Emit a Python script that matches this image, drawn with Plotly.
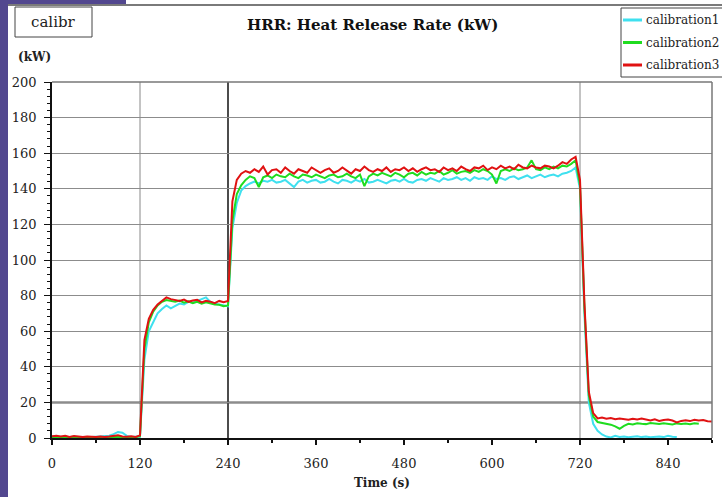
import plotly.graph_objects as go

time = list(range(0, 901, 6))

calibration1 = [
    0.8, 0.5, 0.7, 0.4, 0.6, 0.5, 0.8, 0.4, 0.6, 0.5,
    0.7, 1.0, 0.9, 1.3, 2.2, 3.4, 3.0, 1.2, 0.6, 0.5,
    0.8, 44, 60, 65, 70, 72.5, 74.5, 72.8, 74, 75.5,
    75, 76.5, 76, 77, 78, 79, 76.5, 75.5, 75, 74.5,
    74, 118, 132, 139, 141.5, 143, 144, 143, 144.5, 144,
    145, 143.5, 144, 145, 143, 141, 144, 145, 143.5, 144.5,
    145, 143.5, 144, 145.5, 144, 143, 145, 144.5, 143.5, 145,
    144, 145.5, 143.5, 144, 145, 144, 143, 144.5, 145, 144,
    145.5, 144, 143.5, 145, 145.5, 144.5, 146, 145, 144, 146,
    145, 145.5, 146.5, 145, 146, 144.5, 146.5, 145.5, 146, 145,
    147, 145.5, 146, 145, 146.5, 147, 145.5, 146.5, 147.5, 146,
    147, 148, 146.5, 147.5, 148, 147, 148.5, 149, 150, 152,
    140, 70, 20, 8, 4, 2, 0.8, 0.3, 1.2, 0.6,
    0.9, 0.4, 0.7, 1.0, 0.5, 0.8, 0.4, 0.6, 0.9, 0.5,
    1.3, 0.7, 0.5,
]

calibration2 = [
    0.4, 0.6, 0.3, 0.5, 0.4, 0.7, 0.3, 0.5, 0.4, 0.6,
    0.3, 0.5, 0.6, 0.4, 0.7, 0.5, 0.4, 0.6, 0.3, 0.5,
    1.0, 50, 65, 71, 74.5, 76.5, 77.5, 77, 76.5, 77.2,
    76, 76.8, 75.8, 76.5, 75.5, 76.2, 75.4, 75, 74.8, 74,
    74.5, 122, 137, 142, 145, 147, 146, 141, 146.5, 147.5,
    146, 148, 147, 146.5, 148.5, 147, 146, 148, 147.5, 146.5,
    148, 147, 146, 147.5, 148, 146.5, 147, 148.5, 147, 146,
    148, 141.5, 147, 148.5, 147.5, 149, 148, 147, 149, 148,
    146.5, 148.5, 149, 147.5, 149.5, 148, 149, 148.5, 150, 148,
    149, 150.5, 148.5, 149.5, 150, 149, 150.5, 149.5, 151, 150,
    148, 143, 150, 151, 150, 151.5, 150.5, 151, 152, 156,
    151, 150.5, 152, 151, 152.5, 151.5, 153, 152.5, 154, 156,
    142, 74, 24, 12, 9, 8.5, 8.2, 7.5, 6.5, 5.2,
    6.8, 8.0, 7.6, 8.3, 8.0, 7.8, 8.4, 8.1, 7.9, 8.3,
    8.0, 7.6, 8.2, 7.9, 8.1, 7.8, 8.3, 8.0,
]

calibration3 = [
    1.0, 1.3, 0.8, 1.2, 0.6, 1.1, 0.9, 0.5, 0.9, 0.7,
    0.6, 0.9, 0.5, 0.8, 1.2, 1.6, 0.9, 0.7, 1.0, 0.6,
    1.5, 55, 67, 72, 75, 77, 79, 78, 77.5, 77,
    77.8, 76.5, 77.2, 77.6, 76.2, 77.1, 76.6, 75.8, 77.0, 76.3,
    77.0, 133, 145, 148.5, 150, 149, 151, 149.5, 152.5, 148,
    150.5, 151, 149, 152, 150, 148.5, 151, 150, 149, 152,
    150.5, 149, 150.5, 151.5, 149, 150, 152, 150, 148.5, 151,
    150, 152.5, 150.5, 149.5, 151, 150, 152, 149.5, 151, 150.5,
    152, 150, 151.5, 149.5, 151, 152, 150.5, 151, 149.5, 152,
    150.5, 151.5, 150, 152.5, 151, 150, 152, 151.5, 153, 150.5,
    152, 151, 153, 151.5, 152.5, 151, 153.5, 152, 151.5, 153,
    152, 151.5, 153, 152.5, 151.5, 153, 155, 154, 156.5, 158,
    145, 76, 26, 14, 11, 11.5, 10.8, 11.2, 10.5, 11,
    10.6, 10.2, 10.8, 10.4, 10.9, 10.2, 9.8, 10.5, 9.6, 10.1,
    10.4, 9.8, 8.8, 9.6, 10.0, 9.5, 10.2, 9.8, 10.1, 9.4,
    9.2,
]

series_names = ["calibration1", "calibration2", "calibration3"]
series_colors = ["#3fe0ef", "#1fdc1f", "#e01212"]
x_tick_vals = [0, 120, 240, 360, 480, 600, 720, 840]
y_tick_vals = [0, 20, 40, 60, 80, 100, 120, 140, 160, 180, 200]
stage_lines = [120, 240, 720]

# ---- layout helpers (pixel -> paper) ----
L, R, T, B = 52, 10, 82, 59
W, H = 722, 497
PW, PH = W - L - R, H - T - B


def px(x):
    return (x - L) / PW


def py(y):
    return (H - B - y) / PH


SERIF = "DejaVu Serif"

fig = go.Figure()
all_series = [calibration1, calibration2, calibration3]
for name, col, vals in zip(series_names, series_colors, all_series):
    fig.add_trace(go.Scatter(
        x=time[:len(vals)], y=vals, mode="lines", name=name,
        line=dict(color=col, width=2), showlegend=False, hoverinfo="skip",
    ))

shapes = []
# purple frame of the slide
shapes.append(dict(type="rect", xref="paper", yref="paper", x0=px(0), x1=px(8), y0=py(H), y1=py(0),
                   fillcolor="#52478f", line=dict(width=0), layer="below"))
shapes.append(dict(type="rect", xref="paper", yref="paper", x0=px(0), x1=px(126), y0=py(4), y1=py(0),
                   fillcolor="#52478f", line=dict(width=0), layer="below"))
shapes.append(dict(type="line", xref="paper", yref="paper", x0=px(8), x1=px(W), y0=py(5), y1=py(5),
                   line=dict(color="#7a7a7a", width=2)))
# "calibr" box
shapes.append(dict(type="rect", xref="paper", yref="paper", x0=px(15), x1=px(92), y0=py(37), y1=py(7),
                   line=dict(color="#444", width=1), fillcolor="white"))
# legend box
shapes.append(dict(type="rect", xref="paper", yref="paper", x0=px(621), x1=px(723), y0=py(77), y1=py(8),
                   line=dict(color="#444", width=1), fillcolor="white"))
# stage vertical lines
for xv, colr, wd in zip(stage_lines, ["#888888", "#111111", "#888888"], [1, 1.5, 1]):
    shapes.append(dict(type="line", xref="x", yref="paper", x0=xv, x1=xv, y0=0, y1=1,
                       line=dict(color=colr, width=wd), layer="below"))
# darker line at 20 kW
shapes.append(dict(type="line", xref="paper", yref="y", x0=0, x1=1, y0=20, y1=20,
                   line=dict(color="#555555", width=2), layer="below"))

annotations = []
annotations.append(dict(text="HRR: Heat Release Rate (kW)", xref="paper", yref="paper", x=px(372), y=py(25),
                        showarrow=False, font=dict(family=SERIF, size=15, color="#111", weight="bold"),
                        xanchor="center", yanchor="middle"))
annotations.append(dict(text="calibr", xref="paper", yref="paper", x=px(53.5), y=py(22),
                        showarrow=False, font=dict(family=SERIF, size=15, color="#222"),
                        xanchor="center", yanchor="middle"))
annotations.append(dict(text="(kW)", xref="paper", yref="paper", x=px(16), y=py(57),
                        showarrow=False, font=dict(family=SERIF, size=12, color="#222", weight="bold"),
                        xanchor="left", yanchor="middle"))
# manual legend
for i, (name, col) in enumerate(zip(series_names, series_colors)):
    yy = 20 + i * 22.5
    shapes.append(dict(type="line", xref="paper", yref="paper", x0=px(623), x1=px(642), y0=py(yy), y1=py(yy),
                       line=dict(color=col, width=3)))
    annotations.append(dict(text=name, xref="paper", yref="paper", x=px(644), y=py(yy),
                            showarrow=False, font=dict(family=SERIF, size=12, color="#222"),
                            xanchor="left", yanchor="middle"))

fig.update_layout(
    width=W, height=H,
    margin=dict(l=L, r=R, t=T, b=B),
    paper_bgcolor="white", plot_bgcolor="white",
    shapes=shapes, annotations=annotations,
    showlegend=False,
    font=dict(family=SERIF, size=13, color="#222"),
)
fig.update_xaxes(
    range=[0, 900], tickvals=x_tick_vals, showgrid=False, zeroline=False,
    showline=True, linecolor="#111", linewidth=1.5, mirror=False,
    ticks="outside", ticklen=5, tickcolor="#111", tickwidth=1.5,
    minor=dict(dtick=60, tick0=0, ticks="outside", ticklen=3, tickcolor="#111"),
    tickfont=dict(family=SERIF, size=13, color="#222"),
    ticklabelstandoff=8,
    title=dict(text="<b>Time (s)</b>", font=dict(family=SERIF, size=12, color="#222"), standoff=8),
)
fig.update_yaxes(
    range=[0, 200], tickvals=y_tick_vals, showgrid=True, gridcolor="#8c8c8c", gridwidth=1,
    zeroline=False, showline=True, linecolor="#111", linewidth=1.5,
    ticks="outside", ticklen=6, tickcolor="#111", tickwidth=1.2,
    minor=dict(dtick=4, tick0=0, ticks="outside", ticklen=3, tickcolor="#111", showgrid=False),
    tickfont=dict(family=SERIF, size=13, color="#222"),
    ticklabelstandoff=5,
)
# plot border on top and right
fig.add_shape(type="line", xref="paper", yref="paper", x0=0, x1=1, y0=1, y1=1, line=dict(color="#777", width=1.5))
fig.add_shape(type="line", xref="paper", yref="paper", x0=1, x1=1, y0=0, y1=1, line=dict(color="#777", width=1.5))

fig.write_html("out.html", config={"displayModeBar": False},
               post_script="document.body.style.margin='0px';")
